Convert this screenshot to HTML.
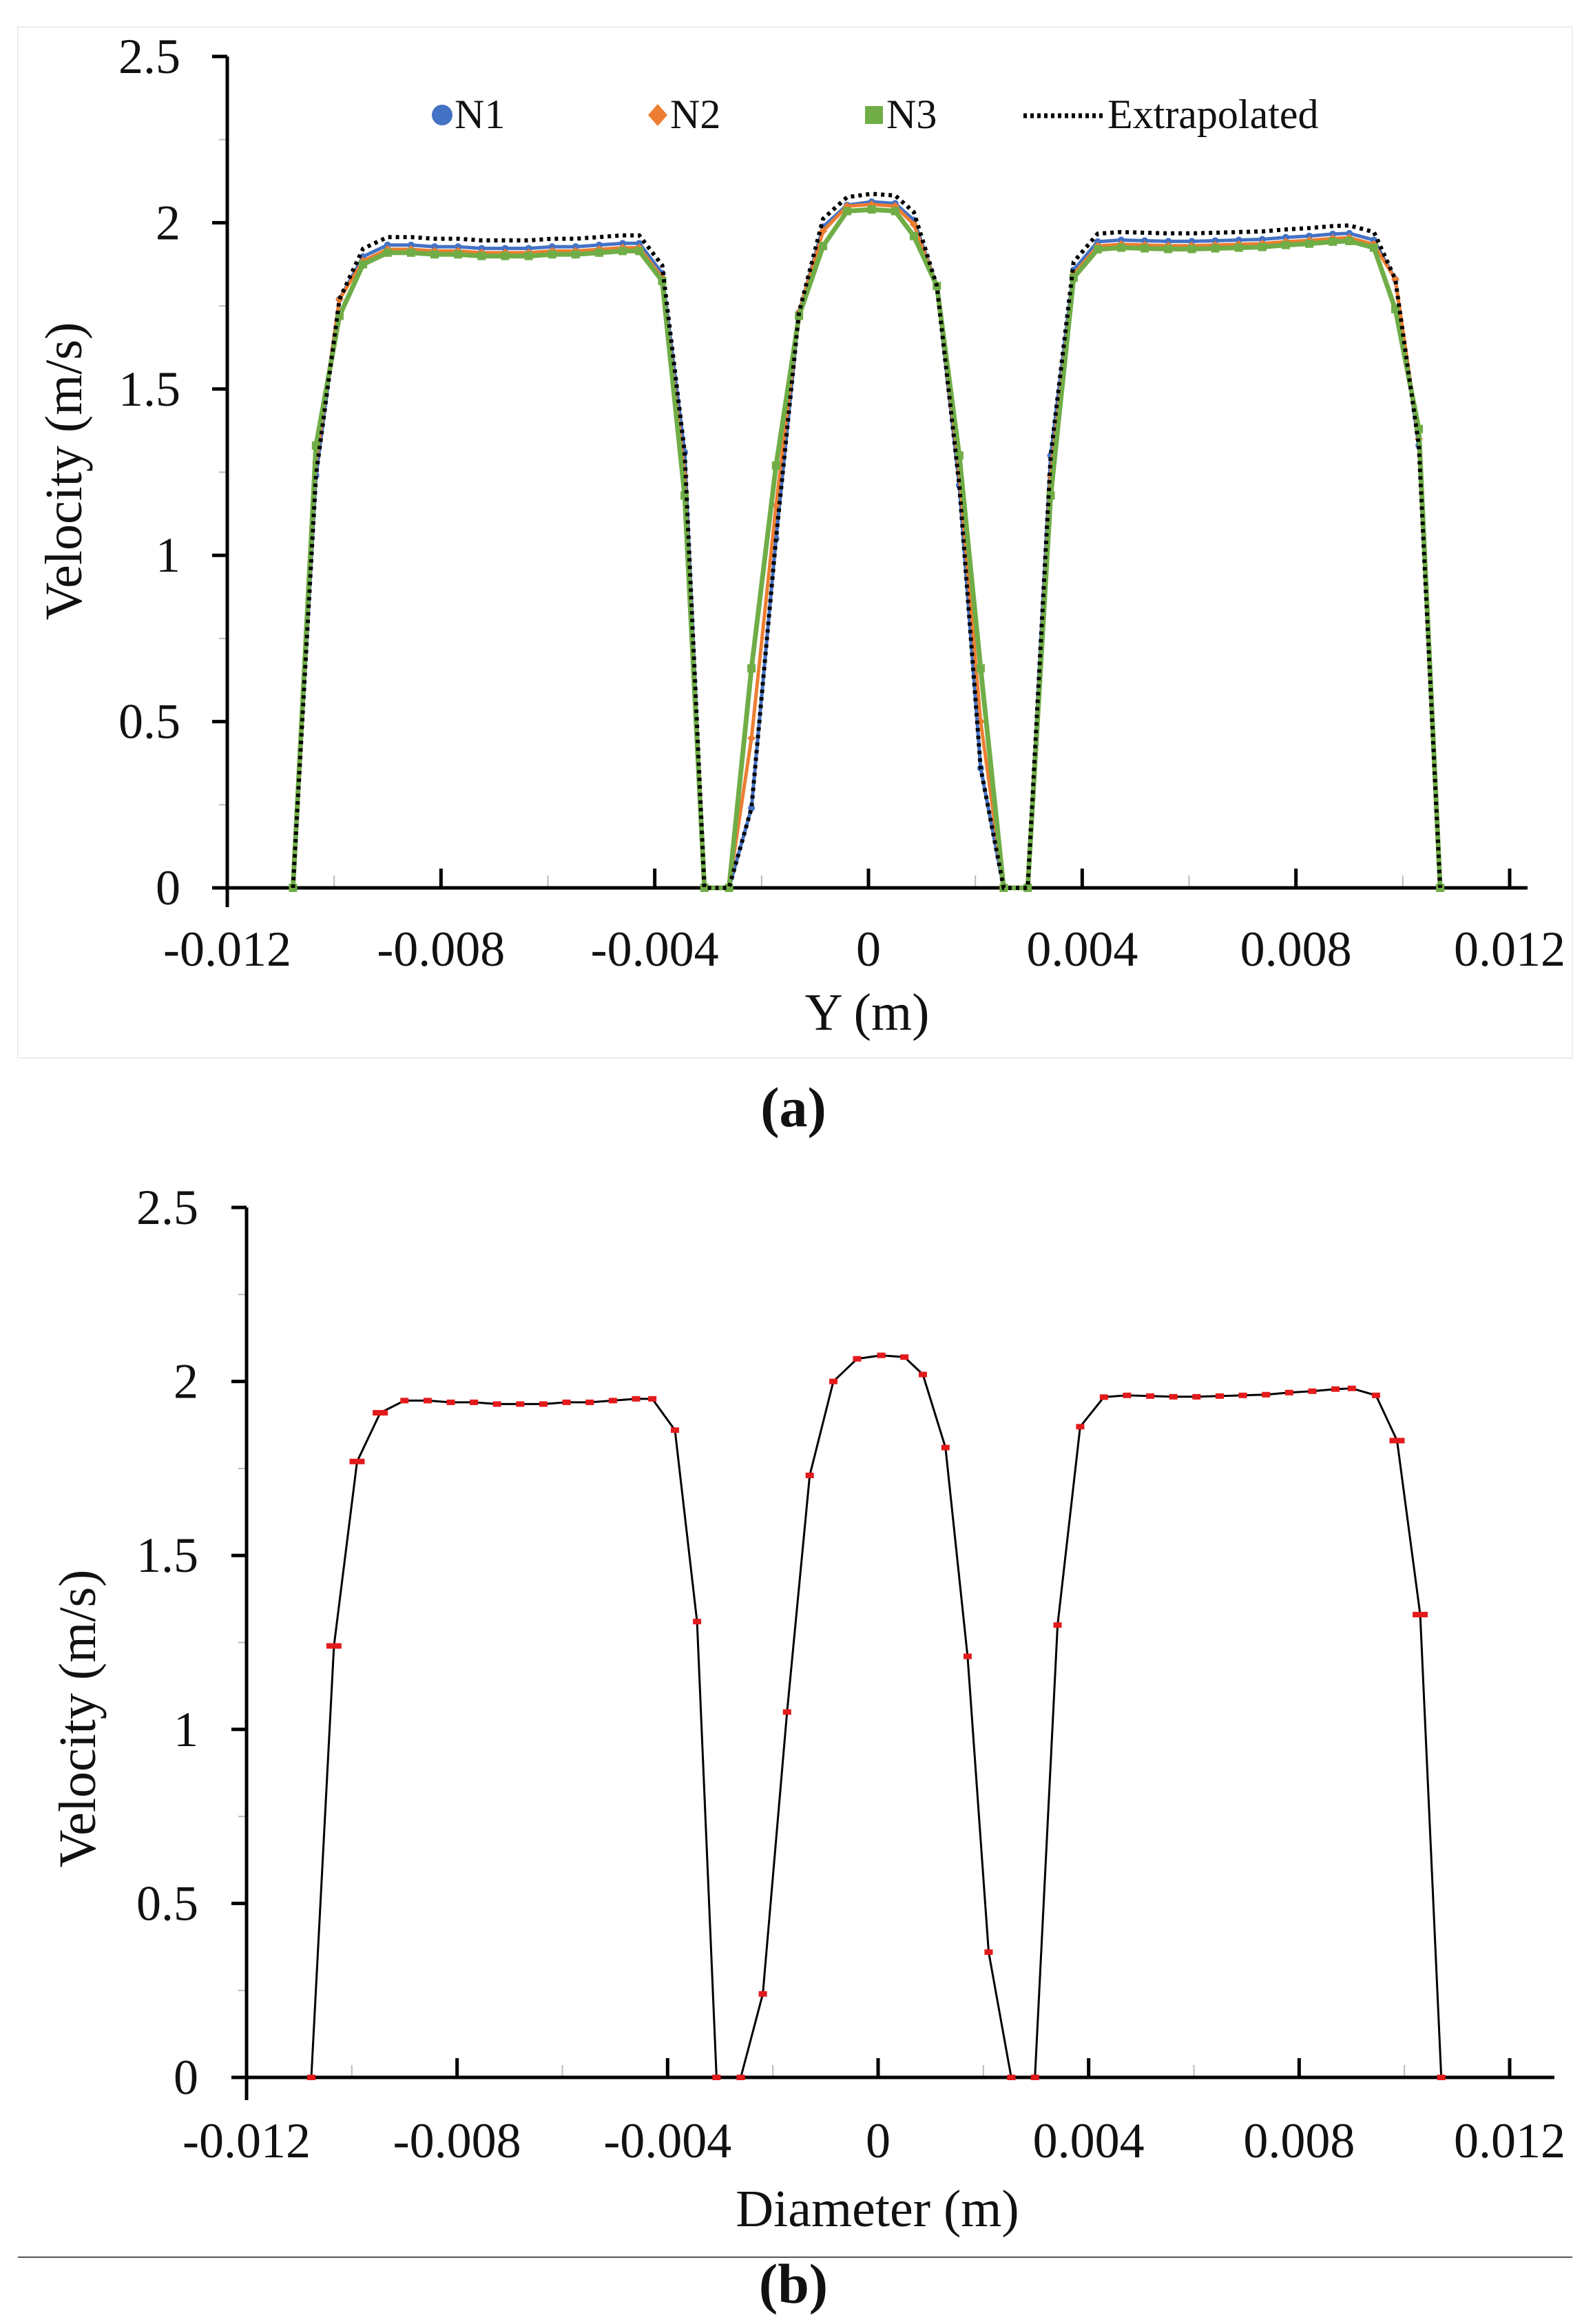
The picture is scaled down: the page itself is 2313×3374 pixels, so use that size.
<!DOCTYPE html>
<html><head><meta charset="utf-8"><style>
html,body{margin:0;padding:0;background:#fff;}
svg{display:block;}
text{font-family:"Liberation Serif","Times New Roman",serif;fill:#111;}
</style></head><body>
<svg id="s" width="2313" height="3374" viewBox="0 0 2313 3374" xmlns="http://www.w3.org/2000/svg">
<rect x="26" y="39" width="2257" height="1497" fill="none" stroke="#ececec" stroke-width="2"/>
<line x1="26" y1="3277" x2="2283" y2="3277" stroke="#555" stroke-width="2"/>
<g id="g"></g>
<circle cx="642" cy="167" r="15" fill="#4472c4"/>
<text x="660" y="186" font-size="60">N1</text>
<polygon points="955,151 969,167 955,183 941,167" fill="#ed7d31"/>
<text x="973" y="186" font-size="60">N2</text>
<rect x="1256" y="154" width="26" height="26" fill="#70ad47"/>
<text x="1287" y="186" font-size="60">N3</text>
<line x1="1486" y1="168" x2="1603" y2="168" stroke="#000" stroke-width="7" stroke-dasharray="5,5"/>
<text x="1608" y="186" font-size="60">Extrapolated</text>
<text x="1259" y="1495" font-size="76" text-anchor="middle">Y (m)</text>
<text transform="translate(118,684) rotate(-90)" font-size="76" text-anchor="middle">Velocity (m/s)</text>
<text x="1152" y="1635" font-size="82" font-weight="bold" text-anchor="middle">(a)</text>
<text x="1274" y="3232" font-size="76" text-anchor="middle">Diameter (m)</text>
<text transform="translate(138,2495) rotate(-90)" font-size="76" text-anchor="middle">Velocity (m/s)</text>
<text x="1152" y="3343" font-size="82" font-weight="bold" text-anchor="middle">(b)</text>
</svg>
<script>
var g=document.getElementById('g'),NS='http://www.w3.org/2000/svg';
function el(t,a){var e=document.createElementNS(NS,t);for(var k in a){if(k!='txt')e.setAttribute(k,a[k]);}if(a.txt){e.textContent=a.txt;}g.appendChild(e);return e;}
var base=[[-10.77,0],[-10.34,1.24],[-9.9,1.77],[-9.46,1.91],[-9.0,1.945],[-8.56,1.945],[-8.12,1.94],[-7.68,1.94],[-7.24,1.935],[-6.8,1.935],[-6.36,1.935],[-5.92,1.94],[-5.48,1.94],[-5.04,1.945],[-4.6,1.95],[-4.29,1.95],[-3.86,1.86],[-3.44,1.31],[-3.07,0],[-2.61,0],[-2.19,0.24],[-1.73,1.05],[-1.3,1.73],[-0.85,2.0],[-0.4,2.065],[0.06,2.075],[0.5,2.07],[0.85,2.02],[1.28,1.81],[1.7,1.21],[2.1,0.36],[2.53,0],[2.98,0],[3.41,1.3],[3.84,1.87],[4.29,1.955],[4.73,1.96],[5.17,1.958],[5.61,1.956],[6.05,1.956],[6.49,1.958],[6.93,1.96],[7.37,1.962],[7.81,1.968],[8.25,1.972],[8.69,1.978],[9.0,1.98],[9.46,1.96],[9.86,1.83],[10.3,1.33],[10.7,0]];
function chart(x0,x1,y0,yTop,axEndX,axBottom,lblY,lblRight){
 var X=function(m){return x0+(m+12)*(x1-x0)/24;},Y=function(v){return y0-v*(y0-yTop)/2.5;};
 for(var m=-12;m<=12;m+=2){var xx=X(m);var maj=(m%4==0);el('line',{x1:xx,y1:y0,x2:xx,y2:y0-(maj?28:18),stroke:maj?'#000':'#bbb','stroke-width':maj?5:2});
  if(maj){var s=(m==0)?'0':(m/1000).toFixed(3);el('text',{x:xx,y:lblY,'font-size':72,'text-anchor':'middle',txt:s});}}
 for(var i=0;i<=10;i++){var v=i*0.25,yy=Y(v);var maj=(i%2==0);el('line',{x1:x0,y1:yy,x2:x0-(maj?22:12),y2:yy,stroke:maj?'#000':'#bbb','stroke-width':maj?5:2});
  if(maj){el('text',{x:lblRight,y:yy+24,'font-size':72,'text-anchor':'end',txt:(v==0?'0':String(v))});}}
 el('line',{x1:x0,y1:yTop,x2:x0,y2:axBottom,stroke:'#000','stroke-width':5});
 el('line',{x1:x0-22,y1:y0,x2:axEndX,y2:y0,stroke:'#000','stroke-width':5});
 return [X,Y];
}
function pts(d,X,Y){return d.map(function(p){return X(p[0]).toFixed(1)+','+Y(p[1]).toFixed(1);}).join(' ');}
var a=chart(330,2192,1289,82,2218,1317,1402,262);
var Xa=a[0],Ya=a[1];
function mod(off,spec){return base.map(function(p,i){var v=p[1];if(v>1.85)v-=off;if(spec[i]!==undefined)v=spec[i];return [p[0],v];});}
var n1=mod(0.012,{});
var n2=mod(0.025,{1:1.28,17:1.24,20:0.45,21:1.15,29:1.25,30:0.5,33:1.24,49:1.35,24:2.05,25:2.055,26:2.05});
var n3=mod(0.035,{1:1.33,2:1.72,17:1.18,20:0.66,21:1.27,22:1.72,29:1.3,30:0.66,33:1.18,48:1.74,49:1.38,24:2.035,25:2.04,26:2.035,23:1.93,27:1.96});
var ext=base.map(function(p){var v=p[1];if(v>1.85)v+=0.012;return [p[0],v];});
el('polyline',{points:pts(n1,Xa,Ya),fill:'none',stroke:'#4472c4','stroke-width':5});
n1.forEach(function(p){el('circle',{cx:Xa(p[0]),cy:Ya(p[1]),r:5,fill:'#4472c4'});});
el('polyline',{points:pts(n2,Xa,Ya),fill:'none',stroke:'#ed7d31','stroke-width':5});
n2.forEach(function(p){var x=Xa(p[0]),y=Ya(p[1]);el('polygon',{points:(x)+','+(y-6)+' '+(x+6)+','+y+' '+x+','+(y+6)+' '+(x-6)+','+y,fill:'#ed7d31'});});
el('polyline',{points:pts(n3,Xa,Ya),fill:'none',stroke:'#70ad47','stroke-width':7});
n3.forEach(function(p){el('rect',{x:Xa(p[0])-6,y:Ya(p[1])-6,width:12,height:12,fill:'#70ad47'});});
el('polyline',{points:pts(ext,Xa,Ya),fill:'none',stroke:'#000','stroke-width':6,'stroke-dasharray':'5,6'});
var b=chart(358,2192,3016,1753,2257,3049,3132,288);
var Xb=b[0],Yb=b[1];
el('polyline',{points:pts(base,Xb,Yb),fill:'none',stroke:'#000','stroke-width':3});
base.forEach(function(p,i){var w=(i==1||i==2||i==49||i==48||i==3)?22:12;el('rect',{x:Xb(p[0])-w/2,y:Yb(p[1])-4,width:w,height:8,fill:'#e31a1c'});});
</script>
</body></html>
